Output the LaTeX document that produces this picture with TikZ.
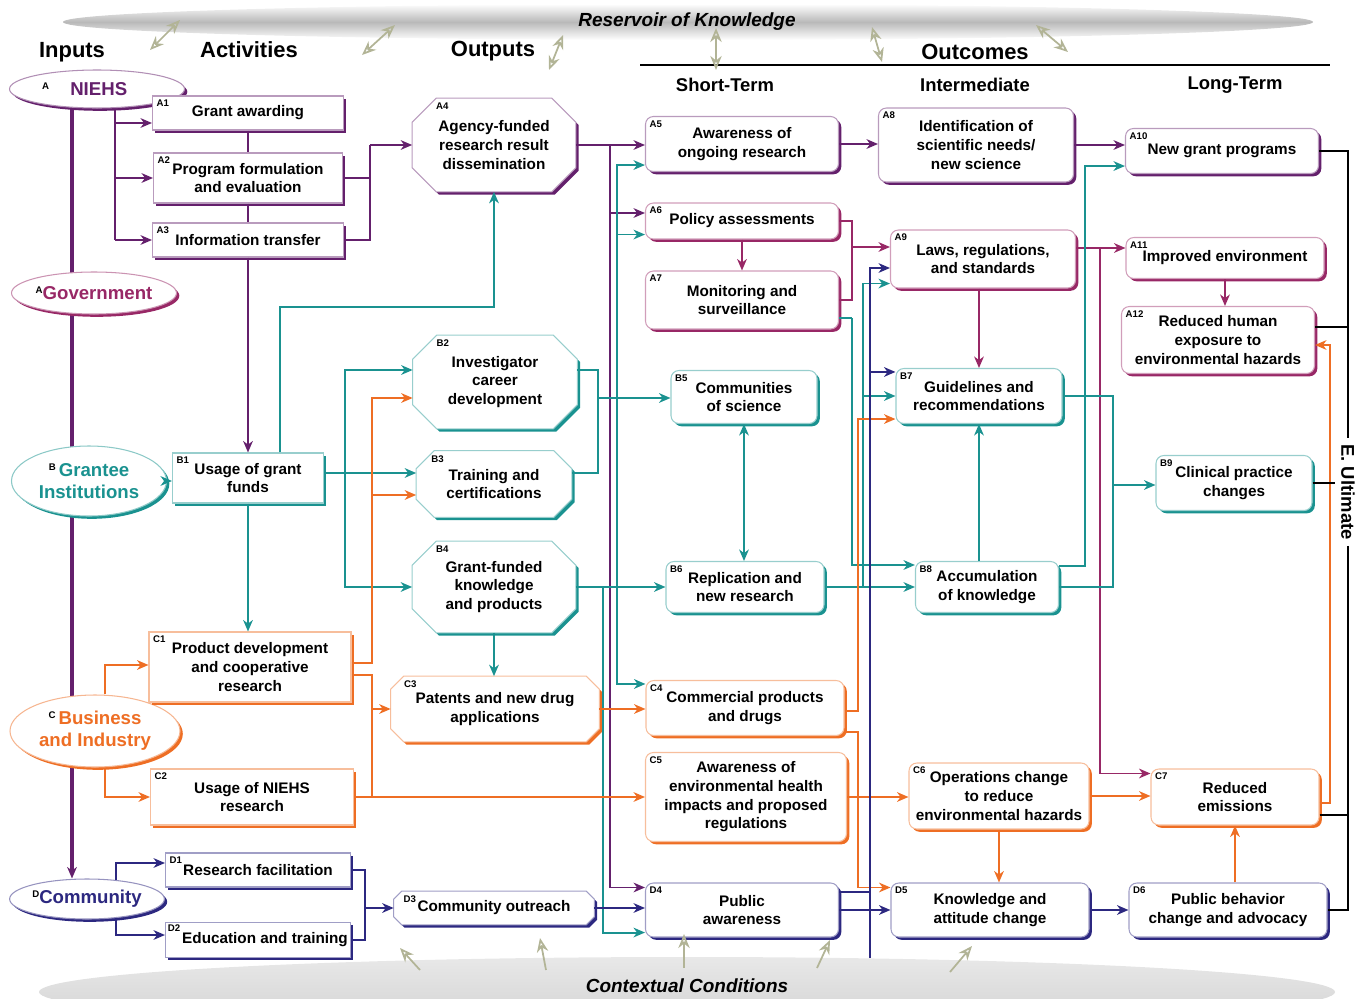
\documentclass[tikz,border=0pt]{standalone}
\usepackage{fontspec}
\setmainfont{Liberation Sans}
\usepackage{tikz}
\usetikzlibrary{calc}
\usetikzlibrary{shapes,arrows.meta,shadows,backgrounds}

\definecolor{cNiehs}{RGB}{100,32,108}
\definecolor{cGov}{RGB}{152,40,102}
\definecolor{cTeal}{RGB}{26,146,144}
\definecolor{cOrange}{RGB}{238,110,36}
\definecolor{cNavy}{RGB}{44,40,128}
\definecolor{cCtx}{RGB}{178,180,150}

\newcommand{\idx}[1]{\textcolor{black}{\raisebox{0.6ex}{\fontsize{5.5}{6}\selectfont #1}}}
% octagon outline round a rectangular node
\newcommand{\octpath}[2]{($(#1.north west)+(#2,0)$) -- ($(#1.north east)+(-#2,0)$) -- ($(#1.north east)+(0,#2)$) -- ($(#1.south east)+(0,-#2)$) -- ($(#1.south east)+(-#2,0)$) -- ($(#1.south west)+(#2,0)$) -- ($(#1.south west)+(0,-#2)$) -- ($(#1.north west)+(0,#2)$) -- cycle}

\tikzset{
  sz/.style 2 args={minimum width=#1*0.02cm, minimum height=#2*0.02cm},
  boxtext/.style={align=center, inner sep=1pt, font=\bfseries\fontsize{8.7}{10.6}\selectfont},
  boxbase/.style={boxtext, draw=#1!45, line width=0.6pt, fill=white,
    drop shadow={shadow xshift=1.6pt, shadow yshift=-1.6pt, fill=#1, opacity=1}},
  actbox/.style={rectangle, boxbase=#1},
  outbox/.style={rectangle, rounded corners=4.5pt, boxbase=#1},
  octbox/.style={rectangle, boxtext},
  octline/.style={draw=#1!45, line width=0.6pt, fill=white,
    drop shadow={shadow xshift=1.6pt, shadow yshift=-1.6pt, fill=#1, opacity=1}},
  src/.style={ellipse, draw=#1!50, line width=0.6pt, fill=white, text=#1,
    inner sep=0pt, align=center, font=\bfseries\fontsize{10.6}{12.6}\selectfont,
    drop shadow={shadow xshift=1.6pt, shadow yshift=-1.6pt, fill=#1, opacity=1}},
  idxlbl/.style={anchor=north west, inner sep=2.5pt,
    font=\bfseries\fontsize{5.5}{6}\selectfont},
  ln/.style={draw=#1, line width=1.1pt},
  ar/.style={ln=#1, -{Stealth[length=6.5pt,width=5.5pt,inset=2pt]}},
  dar/.style={ln=#1, {Stealth[length=6.5pt,width=5.5pt,inset=2pt]}-{Stealth[length=6.5pt,width=5.5pt,inset=2pt]}},
  hdr/.style={font=\bfseries\fontsize{12.5}{15}\selectfont},
  subhdr/.style={font=\bfseries\fontsize{10.5}{12.5}\selectfont},
  band/.style={font=\bfseries\itshape\fontsize{10.8}{13}\selectfont},
  ctx/.style={draw=cCtx, line width=1pt, -{Stealth[open,length=8pt,width=6.5pt]}},
  ctxx/.style={draw=cCtx, line width=1pt, {Stealth[open,length=8pt,width=6.5pt]}-{Stealth[open,length=8pt,width=6.5pt]}},
}

\begin{document}
\begin{tikzpicture}[x=0.02cm, y=-0.02cm]
  \clip (0,0) rectangle (1363,998);
  % reservoir and context bands
  \shade[top color=white, bottom color=white, middle color=gray!55] (688,22) ellipse (625 and 18);
  \shade[top color=gray!18, bottom color=gray!35] (687,992) ellipse (648 and 35);
  \node[band] (resv) at (687,22) {Reservoir of Knowledge};
  \node[band] (ctxt) at (687,986) {Contextual Conditions};

  \node[hdr] (hIn) at (72,52) {Inputs};
  \node[hdr] (hAct) at (249,50) {Activities};
  \node[hdr] (hOut) at (493,51) {Outputs};
  \node[hdr] (hOc) at (975,52) {Outcomes};
  \node[subhdr] (hShort) at (725,85) {Short-Term};
  \node[subhdr] (hInt) at (975,85) {Intermediate};
  \node[subhdr] (hLong) at (1235,85) {Long-Term};
  \coordinate (ocL) at (640,65);
  \coordinate (ocR) at (1330,65);
  \draw[line width=0.8pt] (ocL) -- (ocR);

  % inputs
  \node[src=cNiehs, sz={175}{38}] (niehs) at (97,89) {\idx{A}\hspace{12pt}NIEHS\hspace{14pt}};
  \node[src=cGov, sz={165}{42}] (govt) at (94,293) {\idx{A}Government};
  \node[src=cTeal, sz={155}{70}] (grantee) at (89,481) {\idx{B}\,Grantee\\Institutions};
  \node[src=cOrange, sz={170}{72}] (business) at (95,731) {\idx{C}\,Business\\and Industry};
  \node[src=cNavy, sz={154}{40}] (community) at (87,899) {\idx{D}Community};

  % activities
  \node[actbox=cNiehs, sz={191}{34}, label={[idxlbl]north west:A1}] (a1) at (248,113) {Grant awarding};
  \node[actbox=cNiehs, sz={189}{50}, label={[idxlbl]north west:A2}] (a2) at (248,178) {Program formulation\\and evaluation};
  \node[actbox=cNiehs, sz={191}{34}, label={[idxlbl]north west:A3}] (a3) at (248,240) {Information transfer};
  \node[actbox=cTeal, sz={151}{50}, label={[idxlbl]north west:B1}] (b1) at (248,478) {Usage of grant\\funds};
  \node[actbox=cOrange, sz={202}{70}, label={[idxlbl]north west:C1}] (c1) at (250,667) {Product development\\and cooperative\\research};
  \node[actbox=cOrange, sz={203}{56}, label={[idxlbl]north west:C2}] (c2) at (252,797) {Usage of NIEHS\\research};
  \node[actbox=cNavy, sz={185}{34}, label={[idxlbl]north west:D1}] (d1) at (258,870) {Research facilitation};
  \node[actbox=cNavy, sz={185}{35}, label={[idxlbl,inner sep=1.5pt]north west:D2}] (d2) at (258,940) {\hspace*{8pt}Education and training};

  % outputs
  \node[octbox, sz={163}{93}, label={[idxlbl,xshift=11pt]north west:A4}] (a4) at (494,145) {Agency-funded\\research result\\dissemination};
  \node[octbox, sz={164}{93}, label={[idxlbl,xshift=11pt]north west:B2}] (b2) at (495,382) {Investigator\\career\\development};
  \node[octbox, sz={155}{66}, label={[idxlbl,xshift=6pt]north west:B3}] (b3) at (494,484) {Training and\\certifications};
  \node[octbox, sz={163}{91}, label={[idxlbl,xshift=11pt]north west:B4}] (b4) at (494,587) {Grant-funded\\knowledge\\and products};
  \node[octbox, sz={208}{65}, label={[idxlbl,xshift=5pt]north west:C3}] (c3) at (495,709) {Patents and new drug\\applications};
  \node[octbox, sz={200}{33}, label={[idxlbl,xshift=3pt]north west:D3}] (d3) at (494,908) {Community outreach};
  \begin{scope}[on background layer]
    \foreach \nm/\col/\cut in {a4/cNiehs/24, b2/cTeal/24, b3/cTeal/18, b4/cTeal/24, c3/cOrange/13, d3/cNavy/8}
      \draw[octline=\col] \octpath{\nm}{\cut};
  \end{scope}

  % short-term outcomes
  \node[outbox=cNiehs, sz={193}{55}, label={[idxlbl]north west:A5}] (a5) at (742,144) {Awareness of\\ongoing research};
  \node[outbox=cGov, sz={193}{36}, label={[idxlbl]north west:A6}] (a6) at (742,221) {Policy assessments};
  \node[outbox=cGov, sz={193}{58}, label={[idxlbl]north west:A7}] (a7) at (742,300) {Monitoring and\\surveillance};
  \node[outbox=cTeal, sz={146}{53}, label={[idxlbl]north west:B5}] (b5) at (744,397) {Communities\\of science};
  \node[outbox=cTeal, sz={158}{51}, label={[idxlbl]north west:B6}] (b6) at (745,587) {Replication and\\new research};
  \node[outbox=cOrange, sz={198}{55}, label={[idxlbl]north west:C4}] (c4) at (745,708) {Commercial products\\and drugs};
  \node[outbox=cOrange, sz={201}{89}, label={[idxlbl]north west:C5}] (c5) at (746,797) {Awareness of\\environmental health\\impacts and proposed\\regulations};
  \node[outbox=cNavy, sz={193}{54}, label={[idxlbl]north west:D4}] (d4) at (742,910) {Public\\awareness};

  % intermediate outcomes
  \node[outbox=cNiehs, sz={195}{74}, label={[idxlbl]north west:A8}] (a8) at (976,145) {Identification of\\scientific needs/\\new science};
  \node[outbox=cGov, sz={185}{58}, label={[idxlbl]north west:A9}] (a9) at (983,259) {Laws, regulations,\\and standards};
  \node[outbox=cTeal, sz={166}{55}, label={[idxlbl]north west:B7}] (b7) at (979,396) {Guidelines and\\recommendations};
  \node[outbox=cTeal, sz={143}{51}, label={[idxlbl]north west:B8}] (b8) at (987,587) {Accumulation\\of knowledge};
  \node[outbox=cOrange, sz={180}{66}, label={[idxlbl]north west:C6}] (c6) at (999,796) {Operations change\\to reduce\\environmental hazards};
  \node[outbox=cNavy, sz={198}{54}, label={[idxlbl]north west:D5}] (d5) at (990,910) {Knowledge and\\attitude change};

  % long-term outcomes
  \node[outbox=cNiehs, sz={193}{45}, label={[idxlbl]north west:A10}] (a10) at (1222,151) {New grant programs};
  \node[outbox=cGov, sz={198}{41}, label={[idxlbl]north west:A11}] (a11) at (1225,258) {Improved environment};
  \node[outbox=cGov, sz={193}{67}, label={[idxlbl]north west:A12}] (a12) at (1218,340) {Reduced human\\exposure to\\environmental hazards};
  \node[outbox=cTeal, sz={156}{55}, label={[idxlbl]north west:B9}] (b9) at (1234,483) {Clinical practice\\changes};
  \node[outbox=cOrange, sz={168}{56}, label={[idxlbl]north west:C7}] (c7) at (1235,797) {Reduced\\emissions};
  \node[outbox=cNavy, sz={198}{54}, label={[idxlbl]north west:D6}] (d6) at (1228,910) {Public behavior\\change and advocacy};

  \node[subhdr, rotate=-90] (ult) at (1348,492) {E. Ultimate};

  % NIEHS spine
  \coordinate (spX) at (72,0);
  \begin{scope}[on background layer]
    \draw[ar=cNiehs, line width=2.6pt] (niehs.south -| spX) -- (community.north -| spX);
  \end{scope}

  % NIEHS activities
  \coordinate (tA) at (115,0);
  \draw[ln=cNiehs] (niehs.south -| tA) -- (tA |- a3.west);
  \draw[ar=cNiehs] ($(tA |- a1.west)+(0,10)$) -- ($(a1.west)+(0,10)$);
  \draw[ar=cNiehs] (tA |- a2.west) -- (a2.west);
  \draw[ar=cNiehs] (tA |- a3.west) -- (a3.west);
  \draw[ln=cNiehs] (a1.south) -- (a2.north);
  \draw[ln=cNiehs] (a2.south) -- (a3.north);
  \draw[ar=cNiehs] (a3.south) -- (b1.north);
  \coordinate (jA) at (370,145);
  \draw[ln=cNiehs] (a2.east) -| (jA);
  \draw[ln=cNiehs] (a3.east) -| (jA);
  \draw[ar=cNiehs] (jA) -- (jA -| a4.west);
  \coordinate (jB) at (610,145);
  \draw[ar=cNiehs] (a4.east) -- (a4.east -| a5.west);
  \draw[ar=cNiehs] ($(jB |- a6.west)+(0,-8)$) -- ($(a6.west)+(0,-8)$);
  \draw[ar=cNiehs] (jB) |- ($(d4.north west)+(0,5)$);
  \draw[ar=cNiehs] (a5.east) -- (a5.east -| a8.west);
  \draw[ar=cNiehs] (a8.east) -- (a8.east -| a10.west);

  % policy chain
  \draw[ar=cGov] (a6.south) -- (a6.south |- a7.north);
  \coordinate (jC) at (852,247);
  \draw[ln=cGov] (a6.east) -| (jC);
  \draw[ln=cGov] (a7.east) -| (jC);
  \draw[ar=cGov] (jC) -- (jC -| a9.west);
  \coordinate (jD) at (1100,248);
  \draw[ar=cGov] (jD -| a9.east) -- (jD -| a11.west);
  \draw[ar=cGov] (jD) |- ($(c7.north west)+(0,5)$);
  \draw[ar=cGov] (a9.south -| b7.north) -- (b7.north);
  \draw[ar=cGov] (a11.south) -- (a11.south |- a12.north);

  % grantee chain
  \draw[ar=cTeal] (grantee.east) -- (grantee.east -| b1.west);
  \coordinate (jE) at (345,473);
  \draw[ln=cTeal] (b1.east |- jE) -- (jE);
  \draw[ar=cTeal] (jE) -- (jE -| b3.west);
  \draw[ar=cTeal] (jE) |- ($(b2.west)+(0,-12)$);
  \draw[ar=cTeal] (jE) |- (b4.west);
  \draw[ar=cTeal] (b1.south) -- (b1.south |- c1.north);
  \draw[ar=cTeal] ($(b1.north)+(32,0)$) |- ($(a4.south)+(0,115)$) -- (a4.south);
  \coordinate (jG) at (598,398);
  \draw[ln=cTeal] ($(b2.east)+(0,-12)$) -| (jG);
  \draw[ln=cTeal] ($(b3.east)+(0,-11)$) -| (jG);
  \draw[ar=cTeal] (jG) -- (jG -| b5.west);
  \draw[ar=cTeal] (b4.south) -- (b4.south |- c3.north);
  \coordinate (jT1) at (603,587);
  \coordinate (jT2) at (617,587);
  \draw[ar=cTeal] (b4.east) -- (b4.east -| b6.west);
  \draw[ar=cTeal] (jT1) |- ($(d4.south west)+(0,-5)$);
  \draw[ar=cTeal] (jT2) |- ($(a5.south west)+(0,-7)$);
  \draw[ar=cTeal] ($(jT2 |- a6.south)+(0,-5)$) -- ($(a6.south west)+(0,-5)$);
  \draw[ar=cTeal] (jT2) |- ($(c4.north west)+(0,4)$);
  \draw[dar=cTeal] (b5.south) -- (b5.south |- b6.north);
  \draw[ar=cTeal] (b6.east) -- (b6.east -| b8.west);
  \coordinate (jH) at (863,587);
  \draw[ar=cTeal] (jH) |- ($(a9.south west)+(0,-5)$);
  \draw[ar=cTeal] (jH |- b7.west) -- (b7.west);
  \coordinate (jJ) at (852,318);
  \draw[ln=cTeal] (a7.east |- jJ) -- (jJ);
  \draw[ar=cTeal] (jJ) |- ($(b8.north west)+(0,4)$);
  \draw[ar=cTeal] (b7.south |- b8.north) -- (b7.south);
  \coordinate (jK) at (1085,566);
  \draw[ar=cTeal] (b8.east |- jK) -- (jK) |- ($(a10.south west)+(0,-8)$);
  \coordinate (jL) at (1113,485);
  \draw[ln=cTeal] (b7.east) -| (jL);
  \draw[ln=cTeal] (b8.east) -| (jL);
  \draw[ar=cTeal] (jL) -- (jL -| b9.west);

  % business chain
  \draw[ar=cOrange] ($(business.north)+(10,0)$) |- ($(c1.west)+(0,-2)$);
  \draw[ar=cOrange] ($(business.south)+(10,0)$) |- (c2.west);
  \coordinate (oX) at (372,0);
  \draw[ar=cOrange] ($(c1.east)+(0,-4)$) -| ($(oX |- b2.west)+(0,16)$) -- ($(b2.west)+(0,16)$);
  \draw[ar=cOrange] ($(oX |- b3.west)+(0,11)$) -- ($(b3.west)+(0,11)$);
  \draw[ln=cOrange] ($(c1.east)+(0,8)$) -| (oX |- c2.east);
  \draw[ar=cOrange] (oX |- c3.west) -- (c3.west);
  \draw[ar=cOrange] (c2.east) -- (c2.east -| c5.west);
  \draw[ar=cOrange] (c3.east) -- (c3.east -| c4.west);
  \coordinate (oY) at (858,0);
  \draw[ar=cOrange] ($(c4.east)+(0,3)$) -| ($(oY |- b7.south west)+(0,-5)$) -- ($(b7.south west)+(0,-5)$);
  \draw[ar=cOrange] ($(c4.east)+(0,24)$) -| ($(oY |- d5.north west)+(0,5)$) -- ($(d5.north west)+(0,5)$);
  \draw[ar=cOrange] (c5.east) -- (c5.east -| c6.west);
  \draw[ar=cOrange] (c6.east) -- (c6.east -| c7.west);
  \draw[ar=cOrange] (c6.south) -- (c6.south |- d5.north);
  \draw[ar=cOrange] (c7.south |- d6.north) -- (c7.south);
  \coordinate (oZ) at (1330,0);
  \draw[ar=cOrange] ($(c7.east)+(0,6)$) -| ($(oZ |- a12.east)+(0,5)$) -- ($(a12.east)+(0,5)$);

  % community chain
  \draw[ar=cNavy] ($(community.north)+(29,2)$) |- ($(d1.west)+(0,-7)$);
  \draw[ar=cNavy] ($(community.south)+(29,-2)$) |- ($(d2.west)+(0,-5)$);
  \coordinate (jN) at (365,908);
  \draw[ln=cNavy] (d1.east) -| (jN);
  \draw[ln=cNavy] (d2.east) -| (jN);
  \draw[ar=cNavy] (jN) -- (jN -| d3.west);
  \draw[ar=cNavy] (d3.east) -- (d3.east -| d4.west);
  \draw[ar=cNavy] (d4.east) -- (d4.east -| d5.west);
  \draw[ar=cNavy] (d5.east) -- (d5.east -| d6.west);
  \coordinate (nX) at (870,958);
  \draw[ln=cNavy] ($(d4.east)+(0,-18)$) -- ($(nX |- d4.east)+(0,-18)$);
  \draw[ar=cNavy, line width=0.8pt] (nX) |- ($(a9.west)+(0,9)$);
  \draw[ar=cNavy] ($(nX |- b7.north west)+(0,4)$) -- ($(b7.north west)+(0,4)$);

  % ultimate bracket
  \draw[line width=0.9pt] (a10.east) -| (ult.west);
  \draw[line width=0.9pt] (ult.east) |- (d6.east);
  \draw[line width=0.9pt] ($(a12.east)+(0,-13)$) -- ($(a12.east -| ult.center)+(0,-13)$);
  \draw[line width=0.9pt] (b9.east) -- ($(b9.east)+(22,0)$);
  \draw[line width=0.9pt] ($(c7.east)+(0,18)$) -- ($(c7.east -| ult.center)+(0,18)$);

  % context arrows
  \draw[ctxx] (150,50) -- (180,20);
  \draw[ctxx] (362,55) -- (395,25);
  \draw[ctxx] (549,70) -- (563,35);
  \draw[ctxx] (716,70) -- (716,28);
  \draw[ctxx] (882,62) -- (872,27);
  \draw[ctxx] (1068,52) -- (1036,25);
  \draw[ctx] (420,970) -- (400,948);
  \draw[ctx] (546,970) -- (540,938);
  \draw[ctx] (684,968) -- (684,934);
  \draw[ctx] (817,968) -- (830,940);
  \draw[ctx] (950,972) -- (972,946);
\end{tikzpicture}
\end{document}
